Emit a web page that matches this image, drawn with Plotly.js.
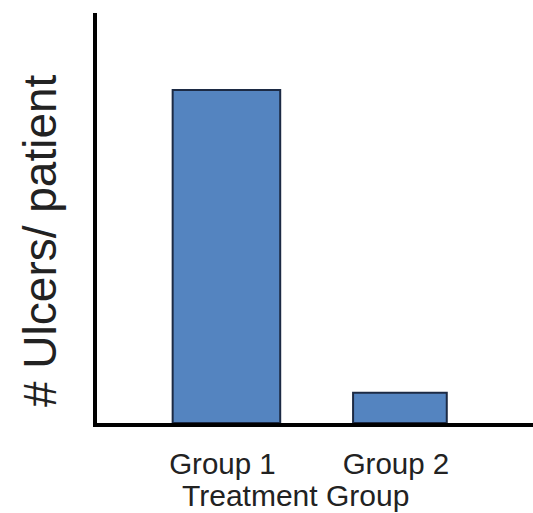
<!DOCTYPE html>
<html>
<head>
<meta charset="utf-8">
<script src="https://cdn.plot.ly/plotly-3.0.1.min.js"></script>
<style>html,body{margin:0;padding:0;background:#fff;}#chart{width:533px;height:513px;}</style>
</head>
<body>
<div id="chart"></div>
<script>
const categories = ["Group 1", "Group 2"];
const ulcersPerPatient = [11, 1];
const barWidths = [0.62, 0.54];
const xTitle = "Treatment Group";
const yTitle = "# Ulcers/ patient";

const FONT = "Liberation Sans, Arial, sans-serif";

const trace = {
  type: "bar",
  x: categories,
  y: ulcersPerPatient,
  width: barWidths,
  marker: { color: "rgb(84,132,192)", line: { color: "#1c2a44", width: 2 } },
  hoverinfo: "x+y"
};

const layout = {
  width: 533, height: 513,
  margin: { l: 97, r: 0, t: 13, b: 90, pad: 0 },
  paper_bgcolor: "#fff", plot_bgcolor: "#fff",
  showlegend: false,
  xaxis: {
    type: "category",
    range: [-0.746, 1.767],
    showline: true, linewidth: 4, linecolor: "#000",
    showgrid: false, zeroline: false,
    ticks: "", ticklen: 0,
    ticklabelstandoff: 12,
    ticklabelshift: -4,
    tickfont: { family: FONT, size: 29.5, color: "#222" },
    fixedrange: true
  },
  yaxis: {
    range: [0, 13.54],
    showline: true, linewidth: 4, linecolor: "#000",
    showgrid: false, zeroline: false,
    ticks: "", showticklabels: false,
    fixedrange: true
  },
  annotations: [
    { text: xTitle, xref: "paper", yref: "paper", x: (295 - 97) / 436, y: (423 - 495) / 410,
      xanchor: "center", yanchor: "middle", showarrow: false,
      font: { family: FONT, size: 30, color: "#222" } },
    { text: yTitle, xref: "paper", yref: "paper", x: (40 - 97) / 436, y: (423 - 241) / 410,
      xanchor: "center", yanchor: "middle", showarrow: false, textangle: -90,
      font: { family: FONT, size: 46, color: "#222" } }
  ]
};

Plotly.newPlot("chart", [trace], layout, { displayModeBar: false, staticPlot: true });
</script>
</body>
</html>
